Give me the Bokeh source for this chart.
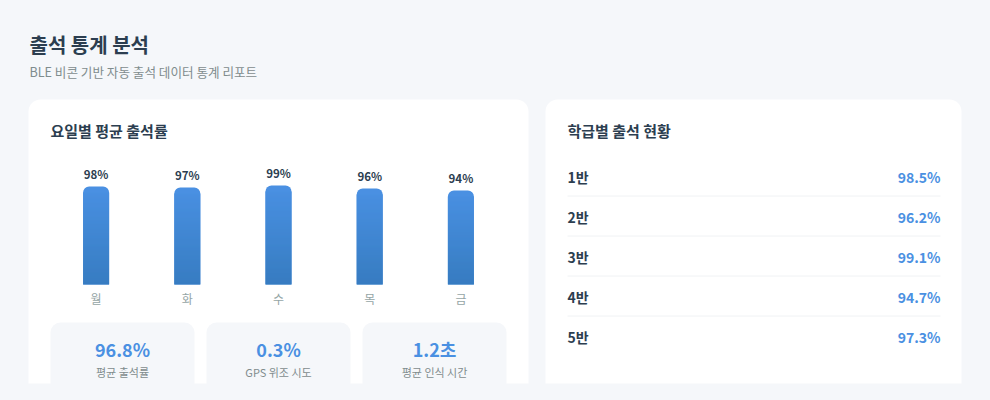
from bokeh.plotting import figure
from bokeh.models import Range1d, GlobalInlineStyleSheet
from bokeh.core.properties import value
from bokeh.embed import file_html
from bokeh.resources import INLINE

# ---------------- data ----------------
title = "출석 통계 분석"
subtitle = "BLE 비콘 기반 자동 출석 데이터 통계 리포트"
left_title = "요일별 평균 출석률"
right_title = "학급별 출석 현황"

days = ["월", "화", "수", "목", "금"]
day_rates = [98, 97, 99, 96, 94]

classes = ["1반", "2반", "3반", "4반", "5반"]
class_rates = [98.5, 96.2, 99.1, 94.7, 97.3]

stat_values = ["96.8%", "0.3%", "1.2초"]
stat_labels = ["평균 출석률", "GPS 위조 시도", "평균 인식 시간"]

# ---------------- style ----------------
FONT = value("Noto Sans CJK KR")
BG = "#f5f7fa"
DARK = "#2c3e50"
GRAY = "#7f8c8d"
LIGHTGRAY = "#95a5a6"
BLUE = "#4a90e2"
TOP_C = (74, 144, 226)
BOT_C = (53, 122, 189)

W, H = 990, 400
OX, OY = 0, 0
BASE = 284  # screen y of bar baseline

p = figure(width=W, height=H,
           x_range=Range1d(OX, OX + W), y_range=Range1d(OY + H, OY),
           output_backend="svg", toolbar_location=None, min_border=0,
           x_axis_location=None, y_axis_location=None, tools="")
p.grid.visible = False
p.outline_line_color = None
p.background_fill_color = BG
p.border_fill_color = BG
p.stylesheets = [GlobalInlineStyleSheet(css="html, body { background: #f5f7fa; }")]
p.extra_y_ranges = {"pct": Range1d(-(OY + H - BASE), BASE - OY)}

# cards
p.quad(left=[28, 545], right=[528, 961], top=[99, 99], bottom=[430, 430],
       fill_color="white", line_color=None, border_radius=12)

# headings
p.text(x=[29], y=[43.5], text=[title], text_font=FONT, text_font_size="20px",
       text_font_style="bold", text_color=DARK, text_align="left", text_baseline="middle")
p.text(x=[29], y=[71], text=[subtitle], text_font=FONT, text_font_size="12.6px",
       text_color=GRAY, text_align="left", text_baseline="middle")
p.text(x=[50, 567], y=[130, 130], text=[left_title, right_title], text_font=FONT,
       text_font_size="15px", text_font_style="bold", text_color=DARK,
       text_align="left", text_baseline="middle")

# bar chart
chart_l, chart_r = 50, 506
slot = (chart_r - chart_l) / len(days)
bar_x = [chart_l + (i + 0.5) * slot for i in range(len(days))]
BW = 26
p.vbar(x=bar_x, width=BW, top=day_rates, bottom=0, y_range_name="pct",
       fill_color=BLUE, line_color=None, border_radius=(6, 6, 0, 0))

sx, sb, st, sc = [], [], [], []
for xi, r in zip(bar_x, day_rates):
    n = int(r) - 6
    for k in range(n):
        t = (k + 0.5) / r
        c = tuple(int(round(BOT_C[j] + (TOP_C[j] - BOT_C[j]) * t)) for j in range(3))
        sx.append(xi); sb.append(k); st.append(min(k + 1.3, n)); sc.append("#%02x%02x%02x" % c)
p.vbar(x=sx, width=BW, bottom=sb, top=st, fill_color=sc, line_color=None, y_range_name="pct")

p.text(x=bar_x, y=[r + 13 for r in day_rates], text=[f"{r}%" for r in day_rates],
       y_range_name="pct", text_font=FONT, text_font_size="11.5px", text_font_style="bold",
       text_color=DARK, text_align="center", text_baseline="middle")
p.text(x=bar_x, y=[298] * len(days), text=days, text_font=FONT, text_font_size="12px",
       text_color=LIGHTGRAY, text_align="center", text_baseline="middle")

# stat boxes
box_w, gap = 144, 12
box_l = [chart_l + i * (box_w + gap) for i in range(3)]
box_c = [b + box_w / 2 for b in box_l]
p.quad(left=box_l, right=[b + box_w for b in box_l], top=[322] * 3, bottom=[420] * 3,
       fill_color=BG, line_color=None, border_radius=10)
p.text(x=box_c, y=[348] * 3, text=stat_values, text_font=FONT, text_font_size="18px",
       text_font_style="bold", text_color=BLUE, text_align="center", text_baseline="middle")
p.text(x=box_c, y=[371] * 3, text=stat_labels, text_font=FONT, text_font_size="11px",
       text_color=GRAY, text_align="center", text_baseline="middle")

# class list
row_y = [176.5 + i * 40 for i in range(len(classes))]
p.text(x=[567] * len(classes), y=row_y, text=classes, text_font=FONT, text_font_size="14px",
       text_font_style="bold", text_color=DARK, text_align="left", text_baseline="middle")
p.text(x=[940] * len(classes), y=row_y, text=[f"{v:.1f}%" for v in class_rates],
       text_font=FONT, text_font_size="14px", text_font_style="bold", text_color=BLUE,
       text_align="right", text_baseline="middle")
sep_y = [y + 19 for y in row_y[:-1]]
p.segment(x0=[567] * len(sep_y), x1=[940] * len(sep_y), y0=sep_y, y1=sep_y,
          line_color="#f0f2f4", line_width=1)

# clip at bottom
p.quad(left=[OX], right=[OX + W], top=[383], bottom=[OY + H], fill_color=BG, line_color=None)

open("out.html", "w").write(file_html(p, INLINE))
